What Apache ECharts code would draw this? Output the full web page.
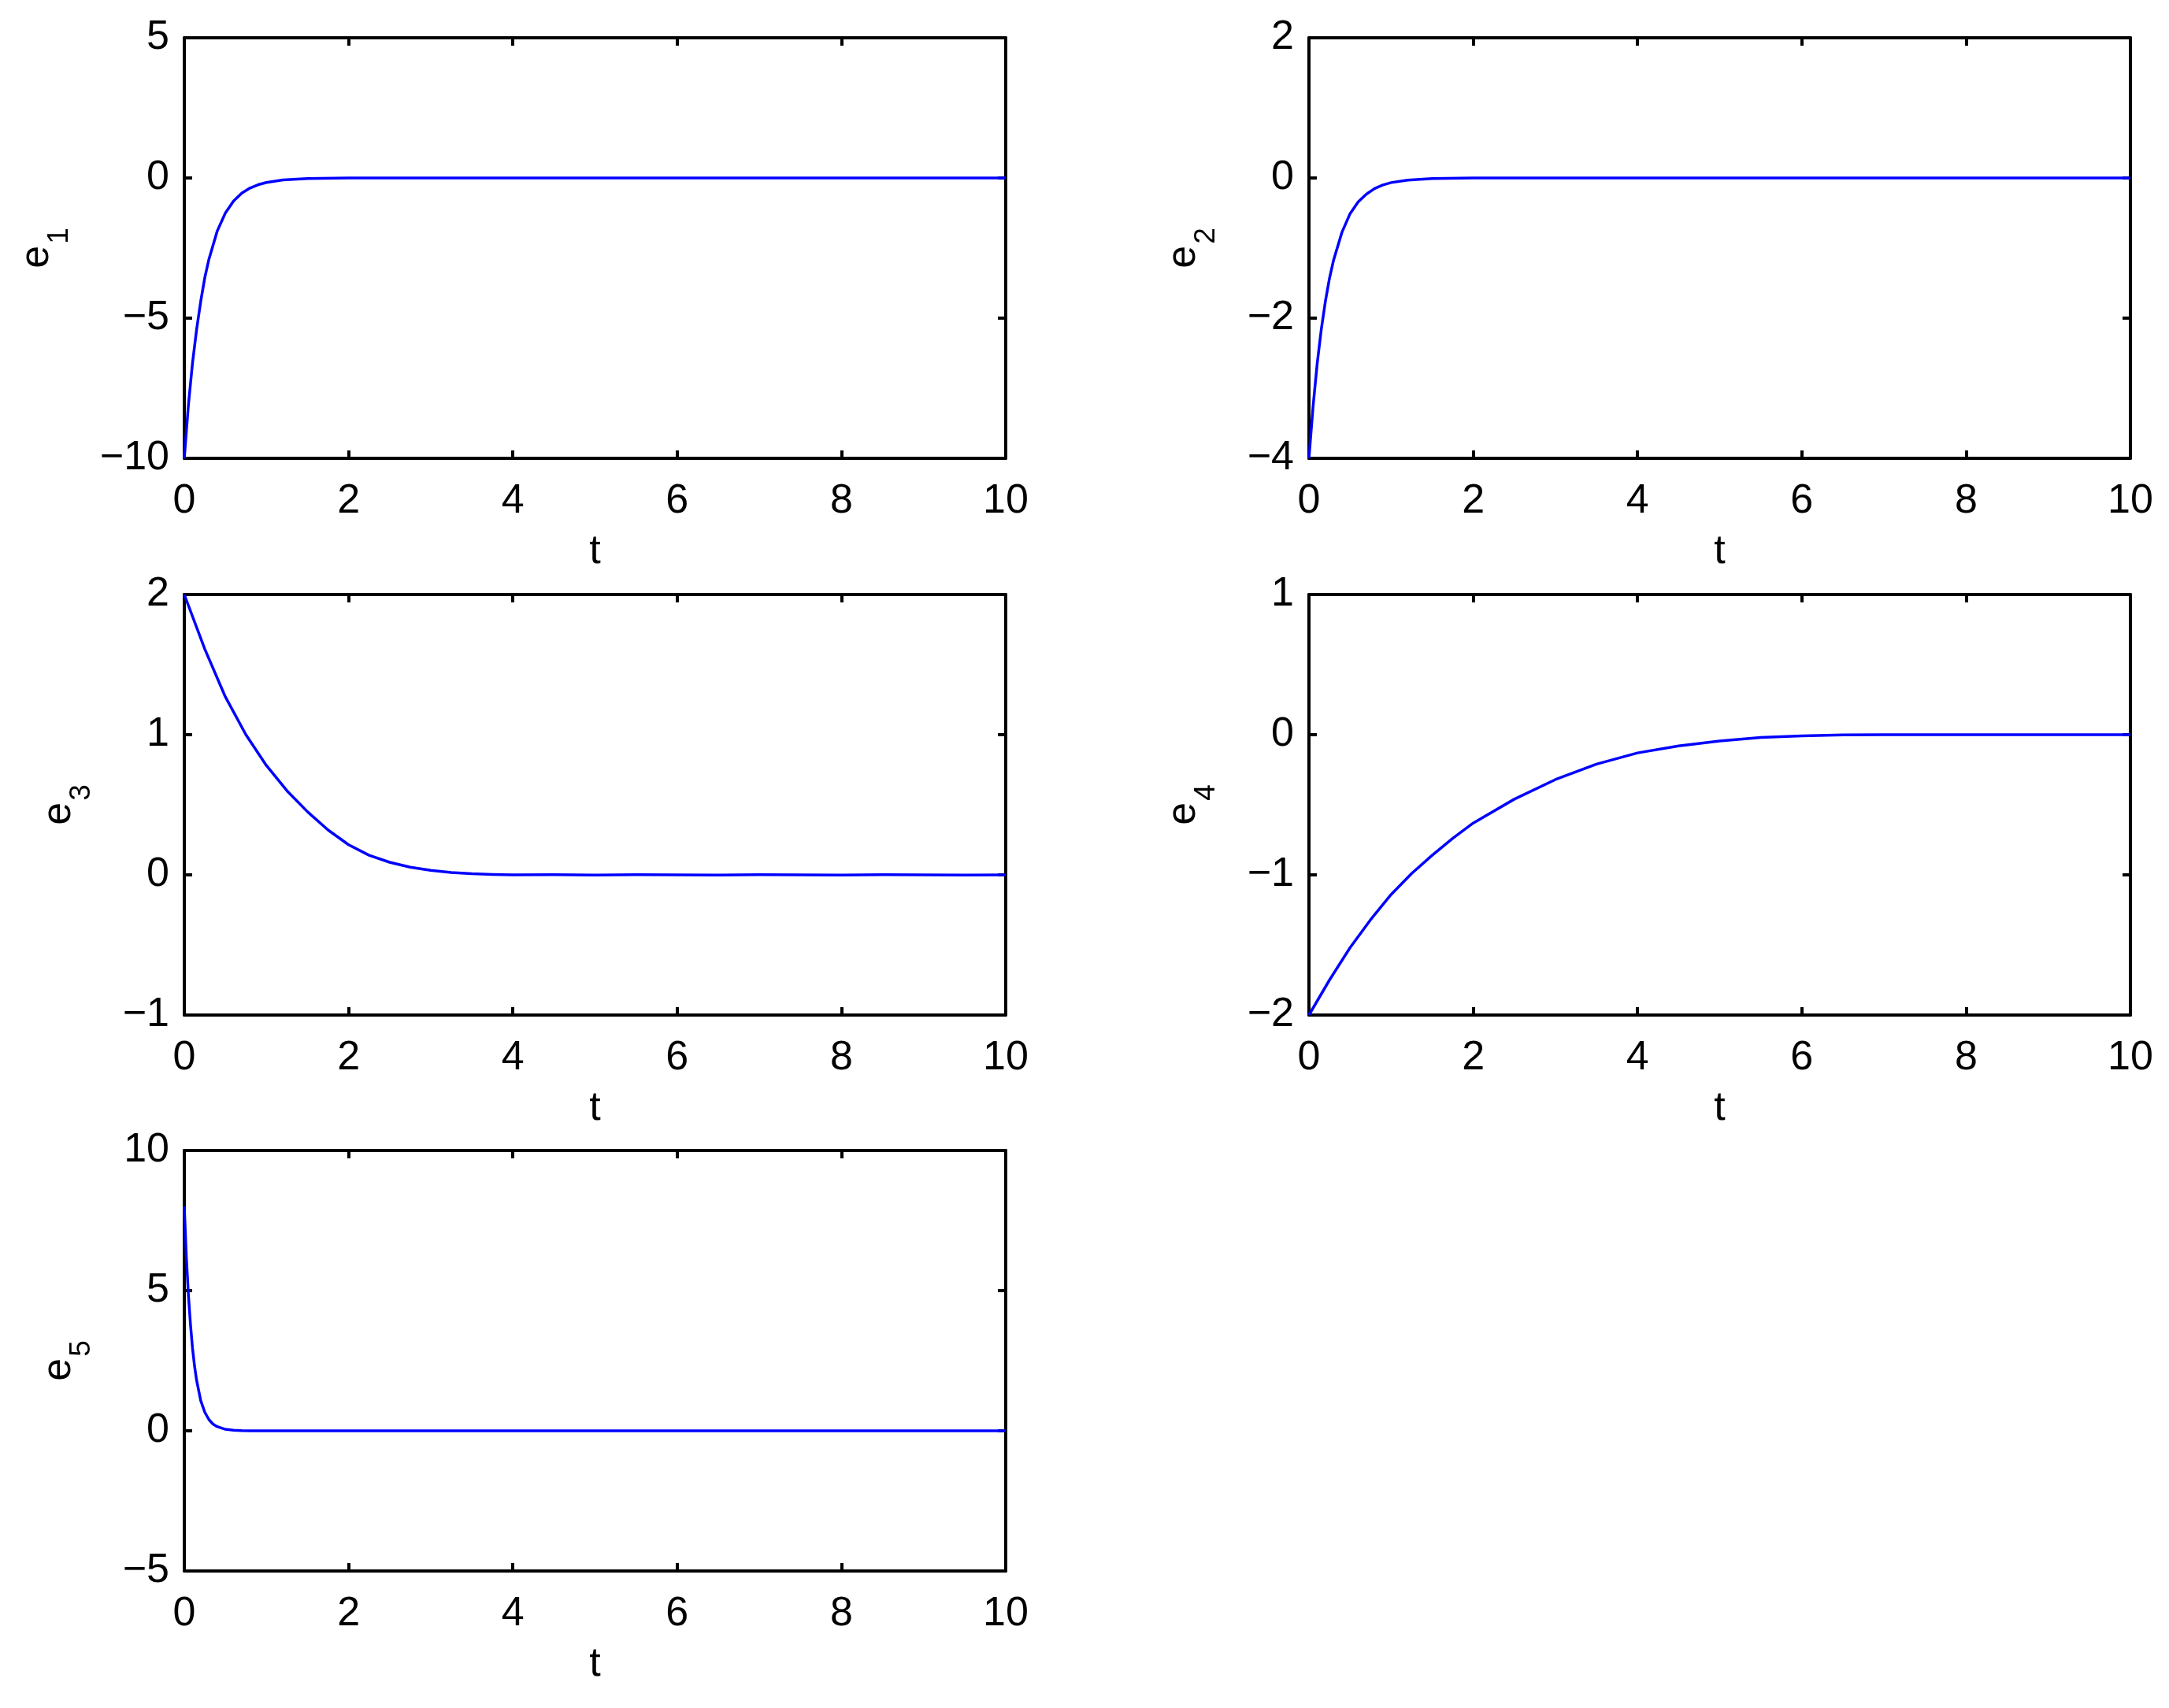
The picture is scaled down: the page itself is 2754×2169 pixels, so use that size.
<!DOCTYPE html>
<html>
<head>
<meta charset="utf-8">
<script src="https://cdn.jsdelivr.net/npm/echarts@6/dist/echarts.min.js"></script>
<style>
html,body{margin:0;padding:0;background:#fff;}
#chart{width:2754px;height:2169px;}
</style>
</head>
<body>
<div id="chart"></div>
<script>
// ---- data ----
const xTicks = [0, 2, 4, 6, 8, 10];

const e1_t = [0, 0.05, 0.1, 0.15, 0.2, 0.25, 0.3, 0.4, 0.5, 0.6, 0.7, 0.8, 0.9, 1.0, 1.2, 1.5, 2, 3, 4, 5, 6, 7, 8, 9, 10];
const e1_v = [-10, -8.1, -6.6, -5.4, -4.4, -3.55, -2.9, -1.9, -1.25, -0.82, -0.54, -0.36, -0.24, -0.16, -0.07, -0.02, -0.003, 0, 0, 0, 0, 0, 0, 0, 0];

const e2_t = [0, 0.05, 0.1, 0.15, 0.2, 0.25, 0.3, 0.4, 0.5, 0.6, 0.7, 0.8, 0.9, 1.0, 1.2, 1.5, 2, 3, 4, 5, 6, 7, 8, 9, 10];
const e2_v = [-4, -3.26, -2.65, -2.16, -1.76, -1.43, -1.17, -0.78, -0.51, -0.34, -0.23, -0.15, -0.10, -0.066, -0.03, -0.008, -0.001, 0, 0, 0, 0, 0, 0, 0, 0];

const e3_t = [0, 0.25, 0.5, 0.75, 1, 1.25, 1.5, 1.75, 2, 2.25, 2.5, 2.75, 3, 3.25, 3.5, 3.75, 4, 4.5, 5, 5.5, 6, 6.5, 7, 7.5, 8, 8.5, 9, 9.5, 10];
const e3_v = [2, 1.61, 1.27, 1.0, 0.78, 0.6, 0.45, 0.32, 0.215, 0.14, 0.09, 0.055, 0.032, 0.017, 0.008, 0.003, 0, 0.002, -0.002, 0.001, 0, -0.002, 0.002, 0, -0.001, 0.002, 0, -0.002, 0];

const e4_t = [0, 0.25, 0.5, 0.75, 1, 1.25, 1.5, 1.75, 2, 2.5, 3, 3.5, 4, 4.5, 5, 5.5, 6, 6.5, 7, 8, 9, 10];
const e4_v = [-2, -1.75, -1.52, -1.32, -1.14, -0.99, -0.86, -0.74, -0.63, -0.46, -0.32, -0.21, -0.13, -0.08, -0.045, -0.02, -0.008, -0.002, 0, 0, 0, 0];

const e5_t = [0, 0.025, 0.05, 0.075, 0.1, 0.125, 0.15, 0.2, 0.25, 0.3, 0.35, 0.4, 0.5, 0.6, 0.7, 0.8, 1, 2, 3, 4, 5, 6, 7, 8, 9, 10];
const e5_v = [8, 6.2, 4.85, 3.8, 2.95, 2.3, 1.8, 1.08, 0.66, 0.4, 0.24, 0.15, 0.055, 0.02, 0.005, 0, 0, 0, 0, 0, 0, 0, 0, 0, 0, 0];

const yLabels = ['1', '2', '3', '4', '5'];
const yRanges = [[-10, 5, 5], [-4, 2, 2], [-1, 2, 1], [-2, 1, 1], [-5, 10, 5]];
const seriesT = [e1_t, e2_t, e3_t, e4_t, e5_t];
const seriesV = [e1_v, e2_v, e3_v, e4_v, e5_v];

// ---- layout ----
const FONT = 'Liberation Sans, Arial, Helvetica, sans-serif';
const FS = 52;
const colLeft = [234, 1662];
const rowTop = [48, 755, 1461];
const W = 1043, H = 534;
const nameGaps = [140, 112, 112, 112, 112];
const AX_W = 4;

const pos = [[0, 0], [1, 0], [0, 1], [1, 1], [0, 2]];
const fmt = v => String(v).replace('-', '\u2212');

const grids = [], xAxes = [], yAxes = [], series = [];
pos.forEach((p, i) => {
  grids.push({left: colLeft[p[0]], top: rowTop[p[1]], width: W, height: H, outerBoundsMode: 'none', containLabel: false});
  const common = {
    type: 'value', gridIndex: i, min: 0, max: 10, interval: 2,
    splitLine: {show: false},
    axisLine: {show: true, onZero: false, lineStyle: {color: '#000', width: AX_W}},
    axisTick: {show: true, inside: true, length: 10, lineStyle: {color: '#000', width: AX_W}}
  };
  xAxes.push(Object.assign({}, common, {
    position: 'bottom',
    name: 't', nameLocation: 'middle', nameGap: 93,
    nameTextStyle: {fontFamily: FONT, fontSize: FS, color: '#000'},
    axisLabel: {show: true, margin: 29, fontFamily: FONT, fontSize: FS, color: '#000', showMinLabel: true, showMaxLabel: true, hideOverlap: false}
  }));
  xAxes.push(Object.assign({}, common, {
    position: 'top', axisLabel: {show: false}
  }));
  const r = yRanges[i];
  const ycommon = {
    type: 'value', gridIndex: i, min: r[0], max: r[1], interval: r[2],
    splitLine: {show: false},
    axisLine: {show: true, onZero: false, lineStyle: {color: '#000', width: AX_W}},
    axisTick: {show: true, inside: true, length: 10, lineStyle: {color: '#000', width: AX_W}}
  };
  yAxes.push(Object.assign({}, ycommon, {
    position: 'left',
    name: '{a|e}{b|' + yLabels[i] + '}', nameLocation: 'middle', nameGap: nameGaps[i], nameRotate: 90,
    nameTextStyle: {
      color: '#000',
      rich: {
        a: {fontFamily: FONT, fontSize: FS, color: '#000'},
        b: {fontFamily: FONT, fontSize: 37, color: '#000', padding: [58, 0, 0, 2]}
      }
    },
    axisLabel: {show: true, margin: 19, fontFamily: FONT, fontSize: FS, color: '#000', formatter: fmt, showMinLabel: true, showMaxLabel: true, hideOverlap: false}
  }));
  yAxes.push(Object.assign({}, ycommon, {
    position: 'right', axisLabel: {show: false}
  }));
  const data = seriesT[i].map((t, k) => [t, seriesV[i][k]]);
  series.push({
    type: 'line', xAxisIndex: 2 * i, yAxisIndex: 2 * i, data: data,
    showSymbol: false, symbol: 'none', smooth: false,
    lineStyle: {color: '#0000ff', width: 3.5, join: 'round'}, clip: true
  });
});

const chart = echarts.init(document.getElementById('chart'), null, {renderer: 'canvas'});
chart.setOption({
  animation: false,
  backgroundColor: '#fff',
  grid: grids, xAxis: xAxes, yAxis: yAxes, series: series
});
</script>
</body>
</html>
